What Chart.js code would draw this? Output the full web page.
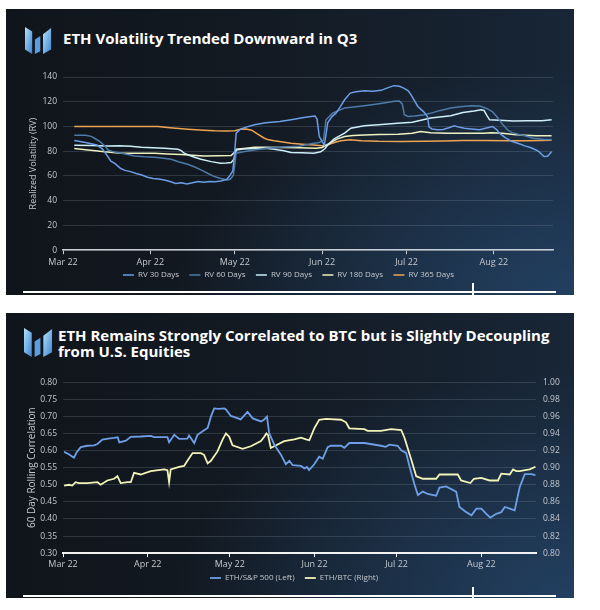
<!DOCTYPE html>
<html>
<head>
<meta charset="utf-8">
<script src="https://cdn.jsdelivr.net/npm/chart.js@4.4.1/dist/chart.umd.min.js"></script>
<style>
  body { margin: 0; width: 600px; height: 610px; background: #fff; position: relative; overflow: hidden; font-family: 'Open Sans', sans-serif; }
  .panel { position: absolute; left: 6px; width: 568px;
    background: radial-gradient(ellipse 70% 80% at 100% 100%, rgba(36,68,104,0.85) 0%, rgba(36,68,104,0) 100%),
                linear-gradient(90deg, #10151b 0%, #131a23 45%, #182636 100%); }
  .title { position: absolute; color: #fff; font-weight: 700; font-size: 15px; line-height: 16px; white-space: nowrap; }
  .logo { position: absolute; }
  .rule { position: absolute; background: #fff; }
  canvas { position: absolute; left: 6px; }
</style>
</head>
<body>
<div class="panel" style="top:9px;height:286px"></div>
<div class="panel" style="top:313px;height:285px"></div>

<svg class="logo" style="left:24px;top:27px" width="29" height="27" viewBox="0 0 30 30">
  <defs>
    <linearGradient id="lg1" x1="0" y1="0" x2="1" y2="1">
      <stop offset="0" stop-color="#b4e2fa"/><stop offset="1" stop-color="#3d84d4"/>
    </linearGradient>
  </defs>
  <polygon points="0,0 8,5 8,30 0,25" fill="url(#lg1)"/>
  <polygon points="11,14 17,10 17,27 11,30" fill="#5b9ddf"/>
  <polygon points="20,8 29,1 29,25 20,30" fill="url(#lg1)"/>
</svg>
<div class="title" style="left:63px;top:30px">ETH Volatility Trended Downward in Q3</div>
<canvas id="volChart" width="568" height="232" style="top:60px"></canvas>
<div class="rule" style="left:23px;top:291px;width:533px;height:2px"></div>
<div class="rule" style="left:472px;top:283px;width:1.5px;height:14px"></div>

<svg class="logo" style="left:24px;top:328px" width="29" height="29" viewBox="0 0 30 30">
  <defs>
    <linearGradient id="lg2" x1="0" y1="0" x2="1" y2="1">
      <stop offset="0" stop-color="#b4e2fa"/><stop offset="1" stop-color="#3d84d4"/>
    </linearGradient>
  </defs>
  <polygon points="0,0 8,5 8,30 0,25" fill="url(#lg2)"/>
  <polygon points="11,14 17,10 17,27 11,30" fill="#5b9ddf"/>
  <polygon points="20,8 29,1 29,25 20,30" fill="url(#lg2)"/>
</svg>
<div class="title" style="left:58px;top:327px">ETH Remains Strongly Correlated to BTC but is Slightly Decoupling<br>from U.S. Equities</div>
<canvas id="corrChart" width="568" height="225" style="top:370px"></canvas>
<div class="rule" style="left:23px;top:595px;width:533px;height:2px"></div>
<div class="rule" style="left:472px;top:587px;width:1.5px;height:13px"></div>

<script>
// x positions are days since 1 Mar 2022
const monthDays = [0, 31, 61, 92, 122, 153];
const monthLabels = ['Mar 22', 'Apr 22', 'May 22', 'Jun 22', 'Jul 22', 'Aug 22'];

const volTicks = [0, 20, 40, 60, 80, 100, 120, 140];
const corrTicks = [0.30, 0.35, 0.40, 0.45, 0.50, 0.55, 0.60, 0.65, 0.70, 0.75, 0.80];
const btcTicks = [0.80, 0.82, 0.84, 0.86, 0.88, 0.90, 0.92, 0.94, 0.96, 0.98, 1.00];

const volNames = ['RV 30 Days', 'RV 60 Days', 'RV 90 Days', 'RV 180 Days', 'RV 365 Days'];
const corrNames = ['ETH/S&P 500 (Left)', 'ETH/BTC (Right)'];

// [day, value]
const rv30 = [[4,88.7],[8,87],[12,85],[14,82],[15.5,77],[17,72],[18.5,70],[20.5,66],[22,64.5],[24,63.5],[26,62],[28,60.8],[30,59],[32,58],[34,57.5],[36,56.8],[38,55.5],[40,54],[42,54.5],[44,53.6],[46,54.5],[48,55.5],[50,55],[52,55.5],[54,55.4],[56,56],[58,57],[59,59.5],[60.3,64],[60.9,78],[61.5,94.6],[63,97.8],[65,99.5],[68,101.4],[72,103],[77,104],[81,105.5],[85,107],[88,108],[89.5,108.5],[90.2,106],[91,92],[92,87.8],[92.8,85.2],[93.5,95],[94,103],[95.5,108],[97,111],[98.5,116],[100,121.6],[102,127],[104,128],[107,128.9],[110,128.5],[113,129.2],[115,131],[117.5,133],[119.5,132.5],[121,131],[122.5,129],[123.5,126],[125,120],[126,116.2],[128,112],[129.4,108.1],[130,99.5],[131,98],[133,97.3],[135,97.5],[137,99],[139,100.5],[140.5,99.5],[142.5,98.6],[145,98],[148,97.3],[150,98.5],[152.5,100],[154,97.5],[155,94.6],[157,91],[159.5,87.8],[162,86],[164,84.3],[166,83],[168,81],[169,79.7],[170.8,75.7],[172,76],[172.5,77],[173.5,79.7]];
const rv60 = [[4,93],[8,93],[10,92],[11.2,90.5],[13,88],[15,84],[16,81],[18,79.5],[20.7,78.4],[23,77.3],[25.4,76.2],[29,75.5],[32.5,75.2],[35,74.5],[38.4,73.5],[41,71.5],[44.3,69.5],[47,67],[49,64.9],[51.5,62],[53.8,59.5],[56,58],[58.5,56.8],[59.5,57.5],[60.5,60.6],[61.5,78.4],[64,79.5],[68,81],[72,82.4],[78,83.5],[84,84],[88,86],[91,87],[92.5,89],[93.4,105.4],[95.7,110.8],[100,114.9],[104,116],[107,116.8],[111,118],[114,119],[117.6,120.3],[119.5,120.5],[120.5,118],[121.2,109.5],[122.5,108.1],[125,108.5],[128.2,109.5],[131,111],[134,113],[137.7,115],[141,116],[144.8,116.8],[148,116.5],[150,115],[152.5,112],[154,108],[156,102],[158,97],[159.5,95],[162,93.5],[164,92.5],[167,90.5],[169,90],[171,89.5],[173.5,89.5]];
const rv90 = [[4,84.9],[10,84.6],[16,84.3],[20,84.4],[24,84],[27.8,83.3],[32,82.8],[36,82.5],[40.8,81.6],[42,80.5],[43,78.4],[45,76.5],[46.7,75.2],[49,73.5],[52.6,71.6],[56,70.3],[58,70.5],[59.7,70.8],[60.8,74],[61.5,81],[64,81.8],[68,82.2],[72,82.5],[75,81.6],[78,80.5],[81,79],[85,78.8],[89,78.4],[91.5,79.5],[93,82],[94,85],[96.3,90],[100,94.6],[102.2,98.6],[107,100.5],[112,101.5],[118.8,102.7],[124,103.5],[130.6,106.8],[137.7,108.6],[142,111.3],[146,112.5],[148.5,113.5],[149.5,113],[150.5,109],[151.5,105.4],[155,105],[160,104.5],[165,104.6],[170,104.6],[173.5,105.4]];
const rv180 = [[4,82.2],[8.9,81],[14.8,79.5],[20.7,78.4],[26,78.4],[32.5,78.4],[37,77.8],[42,77.3],[46,76.7],[50,76.2],[55,76.3],[59.7,76.5],[60.8,79],[61.5,81.6],[65,82.5],[68,83.2],[72,83.2],[78,83],[84,82.8],[90,82.5],[92,83],[93.5,85],[95,87],[97.5,90],[100,91.9],[103,92.8],[107,93.2],[112,93.5],[119,93.8],[124,94.5],[127,96],[130.6,95],[136.5,94.6],[142,94.6],[149.5,94.6],[152,95],[156,94.5],[160,93.5],[164,93],[168,92.6],[173.5,92.5]];
const rv365 = [[4,100],[12,100],[20,100],[27,100],[33.7,100],[38,99],[44.3,97.8],[50,97],[53.8,96.5],[58,96.3],[61,96.5],[63,97.8],[65,98],[67,97],[69,94],[71.5,90.5],[73,89.2],[75,88.4],[78,87.5],[81,86.5],[85,85.7],[89,85],[92,84.5],[94,85],[95,86],[97,87.5],[98.7,88.4],[102,89.2],[106,88.5],[112,88],[120,87.8],[128,88],[135,88.3],[142,88.6],[150,88.6],[158,88.5],[165,88.4],[173.5,88.9]];

const ethSpx = [[0.4,0.596],[2,0.59],[4,0.579],[5,0.595],[6.5,0.610],[8.9,0.614],[11.4,0.615],[12.6,0.619],[14.4,0.632],[16.5,0.635],[18.7,0.637],[20,0.639],[20.6,0.624],[23,0.629],[24.8,0.640],[28.4,0.641],[32.1,0.643],[33.3,0.639],[38.2,0.639],[38.8,0.624],[40.7,0.646],[42.5,0.634],[45.5,0.635],[46.1,0.644],[48,0.622],[49.2,0.646],[51.6,0.659],[52.9,0.666],[54.1,0.699],[55.3,0.723],[57,0.722],[59,0.723],[59.6,0.720],[61.4,0.701],[63,0.697],[65,0.691],[67.5,0.713],[69.4,0.694],[72.4,0.685],[73.5,0.690],[74.6,0.699],[75.4,0.651],[77.3,0.617],[79.7,0.588],[81.5,0.560],[82.8,0.570],[84,0.557],[87,0.555],[88.3,0.548],[89.2,0.552],[90,0.543],[91.9,0.560],[93.7,0.582],[95,0.576],[96.8,0.610],[98,0.614],[101.7,0.614],[102.9,0.608],[104.7,0.622],[110.2,0.622],[116.3,0.614],[118,0.611],[119.4,0.617],[122.4,0.614],[123.7,0.601],[125.5,0.593],[126.7,0.555],[128.5,0.502],[129.8,0.470],[131.6,0.480],[133.4,0.473],[136.5,0.468],[137.7,0.492],[140.1,0.495],[143.8,0.48],[145,0.435],[147.5,0.42],[149.4,0.411],[151.2,0.430],[153,0.43],[154.8,0.415],[156.3,0.404],[158.5,0.415],[160.3,0.42],[161.6,0.435],[163.4,0.43],[165.2,0.425],[167,0.492],[168.9,0.531],[171.3,0.531],[172.8,0.528]];
const ethBtc = [[0.4,0.879],[2.2,0.880],[3.4,0.879],[4.6,0.883],[5.8,0.882],[8.9,0.882],[12.6,0.883],[13.8,0.880],[16.2,0.885],[18.7,0.887],[19.9,0.890],[21.1,0.882],[23.6,0.883],[24.8,0.883],[26,0.894],[28.4,0.892],[32.1,0.896],[37,0.898],[38.2,0.897],[38.8,0.883],[39.4,0.898],[42.5,0.901],[44.3,0.902],[45.5,0.908],[47.4,0.917],[50.4,0.917],[51.6,0.915],[52.9,0.905],[54.1,0.908],[56.5,0.919],[58.4,0.933],[59.6,0.940],[60.8,0.936],[62,0.926],[65.7,0.922],[68.7,0.925],[72.4,0.931],[73.6,0.936],[74.4,0.940],[75,0.938],[76,0.923],[78.5,0.927],[80.9,0.931],[84.6,0.933],[87,0.935],[88.9,0.933],[90.1,0.932],[91.9,0.946],[93.7,0.956],[96.2,0.957],[101.7,0.956],[103.5,0.953],[104.7,0.946],[110.2,0.945],[111.4,0.943],[116.3,0.943],[120,0.945],[123.7,0.944],[124.9,0.935],[127.3,0.91],[129.2,0.890],[131.6,0.887],[136.5,0.887],[137.7,0.892],[144.4,0.892],[145.6,0.885],[149,0.882],[150.3,0.887],[153,0.888],[156,0.885],[159.1,0.885],[160.3,0.893],[163.4,0.892],[164.6,0.898],[165.8,0.896],[167,0.896],[170.7,0.898],[172.8,0.901]];

const textColor = '#c3c8ce';
const gridColor = 'rgba(150,165,180,0.22)';
Chart.defaults.font.family = "'Open Sans', sans-serif";
Chart.defaults.color = textColor;

const toPoints = arr => arr.map(([x, y]) => ({ x, y }));

function lineSet(label, data, color, width, axis) {
    return {
        label, data: toPoints(data), yAxisID: axis || 'y',
        borderColor: color, backgroundColor: color, borderWidth: width,
        pointRadius: 0, tension: 0, fill: false
    };
}

// month ticks on a day-number axis
function monthAxis(max, lineColor, lineWidth, pad) {
    return {
        type: 'linear', min: 0, max: max,
        afterBuildTicks: s => { s.ticks = monthDays.map(v => ({ value: v })); },
        ticks: { autoSkip: false, maxRotation: 0, padding: pad, font: { size: 9 }, color: textColor,
            callback: (v, i) => monthLabels[i] },
        grid: { drawOnChartArea: false, drawTicks: true, tickLength: 4, color: lineColor, lineWidth: 1 },
        border: { color: lineColor, width: lineWidth }
    };
}

// spacing between legend entries is added as trailing spaces
function legendOpts(pad, gap) {
    return {
        position: 'bottom',
        labels: {
            usePointStyle: true, pointStyle: 'line', pointStyleWidth: 11, padding: pad,
            font: { size: 8 }, color: textColor,
            generateLabels: chart => {
                const items = Chart.defaults.plugins.legend.labels.generateLabels(chart);
                items.forEach((it, i) => { if (i < items.length - 1) it.text += gap; });
                return items;
            }
        }
    };
}

new Chart(document.getElementById('volChart'), {
    type: 'line',
    data: {
        datasets: [
            lineSet(volNames[0], rv30, '#6b9ee6', 1.5),
            lineSet(volNames[1], rv60, '#4d7aa6', 1.5),
            lineSet(volNames[2], rv90, '#cdeff8', 1.5),
            lineSet(volNames[3], rv180, '#eef2c0', 1.5),
            lineSet(volNames[4], rv365, '#eea453', 1.5)
        ]
    },
    options: {
        responsive: false, animation: false,
        layout: { padding: { left: 18, right: 21, top: 17, bottom: 3 } },
        scales: {
            x: monthAxis(174, '#c9ced4', 1.5, 3),
            y: {
                min: 0, max: 140,
                afterBuildTicks: s => { s.ticks = volTicks.map(v => ({ value: v })); },
                afterFit: s => { s.width = 39; },
                ticks: { padding: 6, font: { size: 8.5 }, color: textColor },
                grid: { drawTicks: false, color: gridColor, lineWidth: 1 },
                border: { display: false },
                title: { display: true, text: 'Realized Volatility (RV)', font: { size: 9 }, color: textColor, padding: { top: 4, bottom: 0 } }
            }
        },
        plugins: { legend: legendOpts(0, '     '), tooltip: { enabled: false } }
    }
});

new Chart(document.getElementById('corrChart'), {
    type: 'line',
    data: {
        datasets: [
            lineSet(corrNames[0], ethSpx, '#6e9fe8', 1.8),
            lineSet(corrNames[1], ethBtc, '#f2f3b8', 1.8, 'y1')
        ]
    },
    options: {
        responsive: false, animation: false,
        layout: { padding: { left: 16, right: 8, top: 10, bottom: 3 } },
        scales: {
            x: monthAxis(173, '#f2f2f2', 2, 2),
            y: {
                position: 'left', min: 0.30, max: 0.80,
                afterBuildTicks: s => { s.ticks = corrTicks.map(v => ({ value: v })); },
                afterFit: s => { s.width = 41; },
                ticks: { padding: 6, font: { size: 8.5 }, color: textColor, callback: v => v.toFixed(2) },
                grid: { drawTicks: false, color: gridColor, lineWidth: 1 },
                border: { display: false },
                title: { display: true, text: '60 Day Rolling Correlation', font: { size: 10 }, color: textColor, padding: { top: 4, bottom: 0 } }
            },
            y1: {
                position: 'right', min: 0.80, max: 1.00,
                afterBuildTicks: s => { s.ticks = btcTicks.map(v => ({ value: v })); },
                afterFit: s => { s.width = 30; },
                ticks: { padding: 7, font: { size: 8.5 }, color: textColor, callback: v => v.toFixed(2) },
                grid: { display: false, drawTicks: false },
                border: { display: false }
            }
        },
        plugins: { legend: legendOpts(2, '    '), tooltip: { enabled: false } }
    }
});
</script>
</body>
</html>
